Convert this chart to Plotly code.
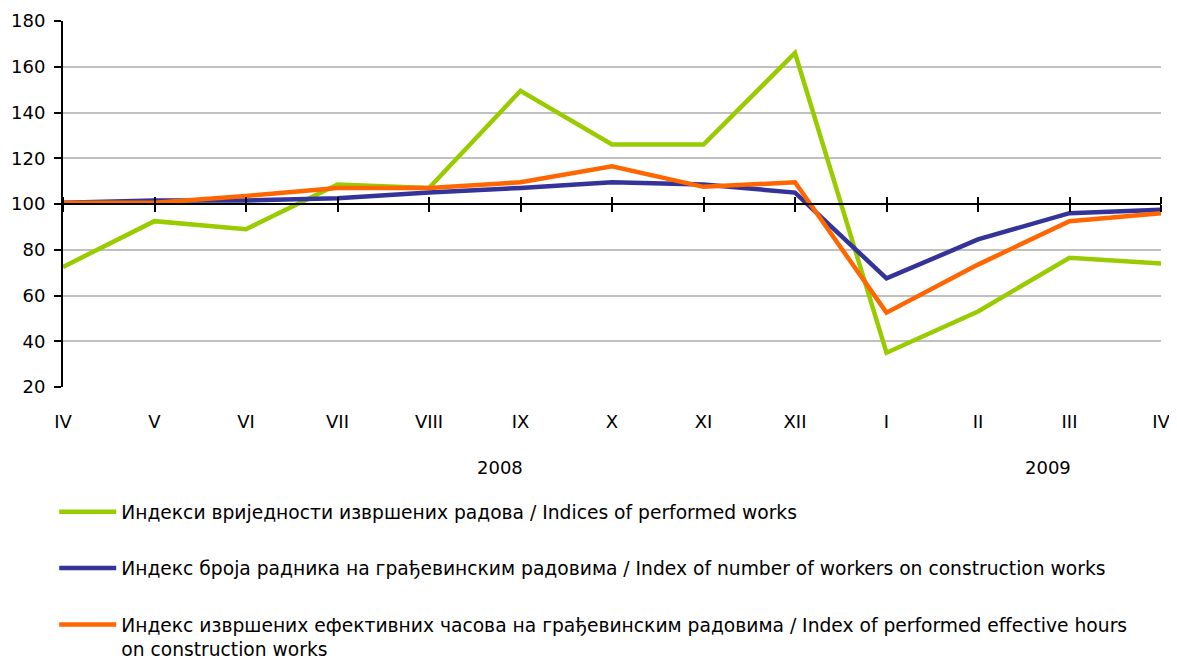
import plotly.graph_objects as go

months = ["IV", "V", "VI", "VII", "VIII", "IX", "X", "XI", "XII", "I", "II", "III", "IV"]
years = ["2008", "2009"]
year_pos = [4.78, 10.77]

works = [72.5, 92.5, 89, 108.5, 107, 149.5, 126, 126, 166, 35, 53, 76.5, 74]
workers = [100.5, 101.5, 101.5, 102.5, 105, 107, 109.5, 108.5, 105, 67.5, 84.5, 96, 97.5]
hours = [100.5, 100.5, 103.5, 107, 107, 109.5, 116.5, 107.5, 109.5, 52.5, 73.5, 92.5, 96]

names = [
    "Индекси вриједности извршених радова / Indices of performed works",
    "Индекс броја радника на грађевинским радовима / Index of number of workers on construction works",
    "Индекс извршених ефективних часова на грађевинским радовима / Index of performed effective hours<br>on construction works",
]
colors = ["#99CC00", "#333399", "#FF6600"]

x = list(range(len(months)))
FONT = "DejaVu Sans"

fig = go.Figure()
for i, (ys, nm, c) in enumerate(zip([works, workers, hours], names, colors)):
    fig.add_trace(go.Scatter(x=x, y=ys, mode="lines", name=nm,
                             line=dict(color=c, width=4.5),
                             legendgroup=f"g{i}"))

# invisible traces to activate crossing axes
fig.add_trace(go.Scatter(x=x, y=workers, xaxis="x2", mode="lines",
                         line=dict(width=0), showlegend=False, hoverinfo="skip", opacity=0))
fig.add_trace(go.Scatter(x=x, y=workers, xaxis="x3", mode="lines",
                         line=dict(width=0), showlegend=False, hoverinfo="skip", opacity=0))

rng = [0, len(months) - 1]
fig.update_layout(
    width=1169, height=655,
    margin=dict(l=55, r=16, t=13, b=276, autoexpand=False),
    paper_bgcolor="white", plot_bgcolor="white",
    font=dict(family=FONT, size=18, color="black"),
    showlegend=True,
    xaxis=dict(range=rng, tickvals=x, ticktext=months, showgrid=False, zeroline=False,
               showline=False, ticks="", ticklabelstandoff=22, automargin=False,
               tickfont=dict(size=18)),
    xaxis2=dict(range=rng, overlaying="x", anchor="free", position=0.5, side="bottom",
                tickvals=x, showticklabels=False, showgrid=False, zeroline=False,
                showline=True, linecolor="black", linewidth=2, automargin=False,
                ticks="outside", ticklen=7, tickwidth=2, tickcolor="black"),
    xaxis3=dict(range=rng, overlaying="x", anchor="free", position=0.5, side="top",
                tickvals=x, showticklabels=False, showgrid=False, zeroline=False,
                showline=False, ticks="outside", ticklen=7, tickwidth=2, tickcolor="black",
                automargin=False),
    yaxis=dict(range=[20, 180], dtick=20, showgrid=True, gridcolor="#C0C0C0", gridwidth=2,
               zeroline=False, showline=True, linecolor="black", linewidth=2,
               ticks="outside", ticklen=7, tickwidth=2, tickcolor="black",
               ticklabelstandoff=5, automargin=False, tickfont=dict(size=18)),
    legend=dict(orientation="v", x=-0.008, xanchor="left", y=-0.29, yanchor="top",
                font=dict(family=FONT, size=18.7), itemwidth=57, tracegroupgap=29,
                valign="top", bgcolor="rgba(0,0,0,0)"),
)

for yr, px in zip(years, year_pos):
    fig.add_annotation(text=yr, x=px, xref="x", y=-0.219, yref="paper",
                       yanchor="middle", showarrow=False, font=dict(family=FONT, size=18))

fig.write_html("out.html")
